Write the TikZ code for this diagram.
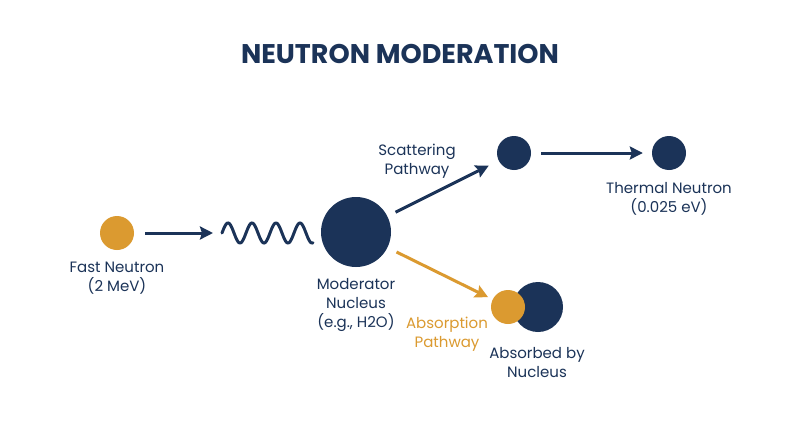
\documentclass[tikz,border=0pt]{standalone}
\usepackage{fontspec}
\setmainfont{Poppins}
\usetikzlibrary{arrows.meta}
\definecolor{navy}{HTML}{1B3358}
\definecolor{amber}{HTML}{DB9A30}
\begin{document}
\begin{tikzpicture}[x=1pt,y=-1pt,
  ball/.style={circle,fill=#1,inner sep=0pt},
  lbl/.style={align=center,text=navy,font=\fontsize{15}{19}\selectfont},
  conn/.style={line width=3pt,draw=#1,-{Stealth[length=13pt,width=13pt,inset=2pt]}},
]
\useasboundingbox[fill=white] (0,0) rectangle (800,447);
\node[text=navy,font=\fontsize{27}{30}\selectfont\bfseries] (title) at (400,54) {NEUTRON MODERATION};

\node[ball=amber,minimum size=34pt] (fast) at (117,233) {};
\node[lbl] (fastlbl) at (117,278) {Fast Neutron\\(2 MeV)};

\coordinate (wavestart) at (222,233);
\draw[conn=navy] (fast) -- (wavestart)
  [shorten <=11pt, shorten >=9pt];
\draw[navy,line width=3pt,line cap=round,domain=0:91,samples=120,smooth]
  plot ({222+\x},{233-10*sin(\x*15)});

\node[ball=navy,minimum size=70pt] (mod) at (356,232) {};
\node[lbl] (modlbl) at (356,305) {Moderator\\Nucleus\\(e.g., H2O)};

\node[ball=navy,minimum size=34pt] (scat) at (514,153) {};
\node[ball=navy,minimum size=34pt] (therm) at (669,153) {};
\node[lbl] (scatlbl) at (417,161) {Scattering\\Pathway};
\node[lbl] (thermlbl) at (669,199) {Thermal Neutron\\(0.025 eV)};

\node[ball=navy,minimum size=50pt] (absnuc) at (538,307) {};
\node[ball=amber,minimum size=34pt] (absn) at (508,307) {};
\node[lbl,text=amber] (abslbl) at (447,334) {Absorption\\Pathway};
\node[lbl] (absdlbl) at (537,363) {Absorbed by\\Nucleus};

\draw[conn=navy,shorten <=9pt,shorten >=11pt] (mod) -- (scat);
\draw[conn=navy,shorten <=10pt,shorten >=9pt] (scat) -- (therm);
\draw[conn=amber,shorten <=10pt,shorten >=5pt] (mod) -- (absn);
\end{tikzpicture}
\end{document}
